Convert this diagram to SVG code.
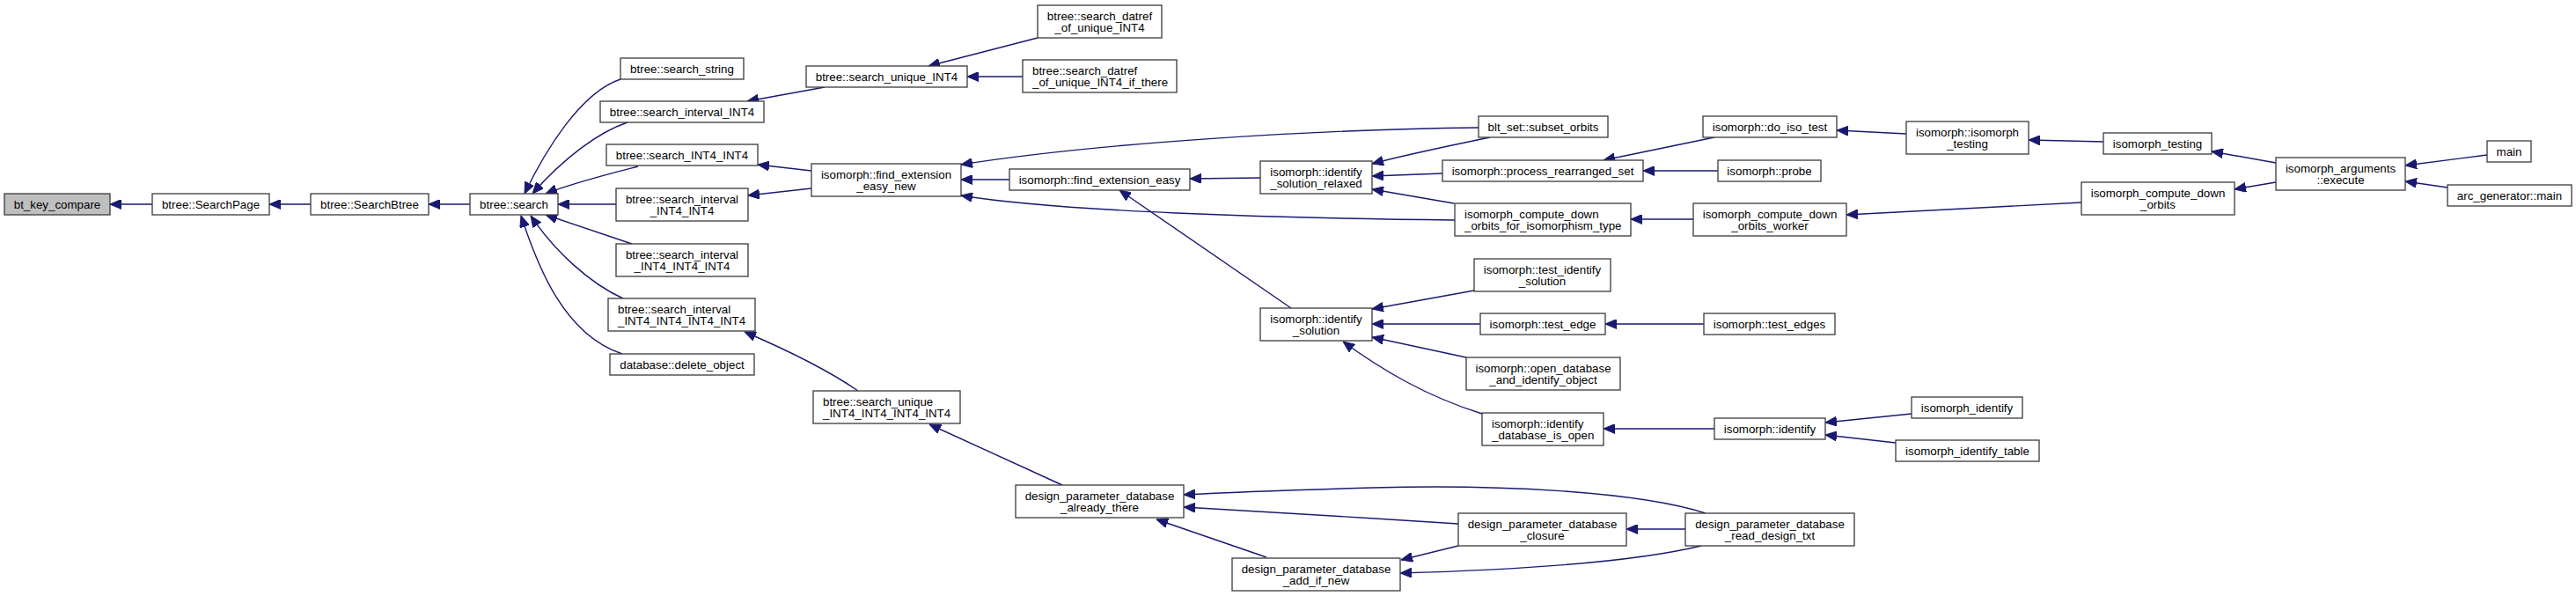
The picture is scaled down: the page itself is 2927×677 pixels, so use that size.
<svg xmlns="http://www.w3.org/2000/svg" width="2927" height="677" viewBox="0 0 2927 677">
<style>
.n rect{fill:#ffffff;stroke:#3a3a3a;stroke-width:1.3}
.n.root rect{fill:#bfbfbf}
.n text{font-family:"Liberation Sans",Arial,Helvetica,sans-serif;font-size:13.33px;fill:#000000}
.c{text-anchor:middle}
.l{text-anchor:start}
#edges path{fill:none;stroke:#191970;stroke-width:1.4;marker-end:url(#ah)}
</style>
<defs>
<marker id="ah" markerWidth="13" markerHeight="11" refX="13" refY="5.5" orient="auto" markerUnits="userSpaceOnUse">
<path d="M0,0 L13,5.5 L0,11 z" fill="#191970" stroke="#191970" stroke-width="1"/>
</marker>
</defs>
<rect width="2927" height="677" fill="#ffffff"/>
<g id="edges">
<path d="M173,232 L125,232"/>
<path d="M353,232 L306,232"/>
<path d="M534,232 L487,232"/>
<path d="M705,90 C660,105 620,170 596,220"/>
<path d="M713,139 C680,150 640,180 605,220"/>
<path d="M725,189 C690,198 650,208 620,220"/>
<path d="M700,232 L634,232"/>
<path d="M718,277 L620,244"/>
<path d="M708,339 C670,322 630,285 603,245"/>
<path d="M707,402 C640,380 610,300 592,245"/>
<path d="M937,99 L849,115"/>
<path d="M1179,43 L1055,75"/>
<path d="M1162,87 L1099,87"/>
<path d="M922,194 L861,187"/>
<path d="M922,214 L850,222"/>
<path d="M975,444 C940,420 900,400 846,377"/>
<path d="M1207,551 L1056,482"/>
<path d="M1147,204 L1092,204"/>
<path d="M1680,145 C1500,147 1250,162 1092,187"/>
<path d="M1653,250 C1450,248 1200,240 1092,222"/>
<path d="M1432,202 L1352,203"/>
<path d="M1467,350 L1272,216"/>
<path d="M1693,156 C1650,165 1600,175 1559,186"/>
<path d="M1639,197 L1559,200"/>
<path d="M1652,231 L1559,215"/>
<path d="M1948,156 L1822,182"/>
<path d="M1952,194 L1867,194"/>
<path d="M1924,249 L1853,249"/>
<path d="M2166,152 L2087,148"/>
<path d="M2390,161 L2305,159"/>
<path d="M2586,185 L2513,172"/>
<path d="M2586,207 L2539,215"/>
<path d="M2826,176 L2733,188"/>
<path d="M2781,213 L2733,206"/>
<path d="M2365,230 L2098,244"/>
<path d="M1675,330 L1559,351"/>
<path d="M1682,368 L1559,368"/>
<path d="M1666,406 L1559,383"/>
<path d="M1684,470 C1620,450 1570,420 1526,388"/>
<path d="M1948,487 L1822,487"/>
<path d="M1936,368 L1824,368"/>
<path d="M2172,470 L2074,480"/>
<path d="M2154,503 L2074,494"/>
<path d="M1657,595 C1550,588 1420,580 1345,576"/>
<path d="M1938,583 C1860,558 1700,550 1560,554 S1400,559 1345,562"/>
<path d="M1439,633 L1314,590"/>
<path d="M1657,620 L1592,636"/>
<path d="M1933,620 C1850,640 1700,648 1591,651"/>
<path d="M1915,601 L1848,601"/>
</g>
<g id="n_bt_key_compare" class="n root"><rect x="5" y="220" width="120" height="24"/><text class="c" x="65" y="237">bt_key_compare</text></g>
<g id="n_SearchPage" class="n"><rect x="173" y="220" width="133" height="24"/><text class="c" x="239.5" y="237">btree::SearchPage</text></g>
<g id="n_SearchBtree" class="n"><rect x="353" y="220" width="134" height="24"/><text class="c" x="420" y="237">btree::SearchBtree</text></g>
<g id="n_search" class="n"><rect x="534" y="220" width="100" height="24"/><text class="c" x="584" y="237">btree::search</text></g>
<g id="n_search_string" class="n"><rect x="705" y="66" width="140" height="24"/><text class="c" x="775" y="83">btree::search_string</text></g>
<g id="n_search_interval_INT4" class="n"><rect x="682" y="115" width="186" height="24"/><text class="c" x="775" y="132">btree::search_interval_INT4</text></g>
<g id="n_search_INT4_INT4" class="n"><rect x="689" y="164" width="172" height="24"/><text class="c" x="775" y="181">btree::search_INT4_INT4</text></g>
<g id="n_search_interval_INT4_INT4" class="n"><rect x="700" y="214" width="150" height="37"/><text class="c" x="775" y="231">btree::search_interval</text><text class="c" x="775" y="244">_INT4_INT4</text></g>
<g id="n_search_interval_INT4_INT4_INT4" class="n"><rect x="700" y="277" width="150" height="37"/><text class="c" x="775" y="294">btree::search_interval</text><text class="c" x="775" y="307">_INT4_INT4_INT4</text></g>
<g id="n_search_interval_INT4_INT4_INT4_INT4" class="n"><rect x="691" y="339" width="167" height="37"/><text class="l" x="702" y="356">btree::search_interval</text><text class="l" x="702" y="369">_INT4_INT4_INT4_INT4</text></g>
<g id="n_delete_object" class="n"><rect x="693" y="402" width="164" height="24"/><text class="c" x="775" y="419">database::delete_object</text></g>
<g id="n_search_unique_INT4" class="n"><rect x="916" y="75" width="183" height="24"/><text class="c" x="1007.5" y="92">btree::search_unique_INT4</text></g>
<g id="n_search_datref_of_unique_INT4" class="n"><rect x="1179" y="6" width="141" height="37"/><text class="c" x="1249.5" y="23">btree::search_datref</text><text class="c" x="1249.5" y="36">_of_unique_INT4</text></g>
<g id="n_search_datref_of_unique_INT4_if_there" class="n"><rect x="1162" y="68" width="175" height="37"/><text class="l" x="1173" y="85">btree::search_datref</text><text class="l" x="1173" y="98">_of_unique_INT4_if_there</text></g>
<g id="n_find_extension_easy_new" class="n"><rect x="922" y="186" width="170" height="37"/><text class="c" x="1007" y="203">isomorph::find_extension</text><text class="c" x="1007" y="216">_easy_new</text></g>
<g id="n_search_unique_INT4_INT4_INT4_INT4" class="n"><rect x="924" y="444" width="167" height="37"/><text class="l" x="935" y="461">btree::search_unique</text><text class="l" x="935" y="474">_INT4_INT4_INT4_INT4</text></g>
<g id="n_already_there" class="n"><rect x="1154" y="551" width="191" height="37"/><text class="c" x="1249.5" y="568">design_parameter_database</text><text class="c" x="1249.5" y="581">_already_there</text></g>
<g id="n_find_extension_easy" class="n"><rect x="1147" y="192" width="205" height="24"/><text class="c" x="1249.5" y="209">isomorph::find_extension_easy</text></g>
<g id="n_identify_solution_relaxed" class="n"><rect x="1432" y="183" width="127" height="37"/><text class="c" x="1495.5" y="200">isomorph::identify</text><text class="c" x="1495.5" y="213">_solution_relaxed</text></g>
<g id="n_identify_solution" class="n"><rect x="1432" y="350" width="127" height="37"/><text class="c" x="1495.5" y="367">isomorph::identify</text><text class="c" x="1495.5" y="380">_solution</text></g>
<g id="n_subset_orbits" class="n"><rect x="1680" y="132" width="147" height="24"/><text class="c" x="1753.5" y="149">blt_set::subset_orbits</text></g>
<g id="n_process_rearranged_set" class="n"><rect x="1639" y="182" width="228" height="24"/><text class="c" x="1753" y="199">isomorph::process_rearranged_set</text></g>
<g id="n_compute_down_orbits_for_isomorphism_type" class="n"><rect x="1653" y="231" width="200" height="37"/><text class="l" x="1664" y="248">isomorph_compute_down</text><text class="l" x="1664" y="261">_orbits_for_isomorphism_type</text></g>
<g id="n_test_identify_solution" class="n"><rect x="1675" y="294" width="155" height="37"/><text class="c" x="1752.5" y="311">isomorph::test_identify</text><text class="c" x="1752.5" y="324">_solution</text></g>
<g id="n_test_edge" class="n"><rect x="1682" y="356" width="142" height="24"/><text class="c" x="1753" y="373">isomorph::test_edge</text></g>
<g id="n_open_database_and_identify_object" class="n"><rect x="1666" y="406" width="175" height="37"/><text class="c" x="1753.5" y="423">isomorph::open_database</text><text class="c" x="1753.5" y="436">_and_identify_object</text></g>
<g id="n_identify_database_is_open" class="n"><rect x="1684" y="469" width="138" height="37"/><text class="l" x="1695" y="486">isomorph::identify</text><text class="l" x="1695" y="499">_database_is_open</text></g>
<g id="n_closure" class="n"><rect x="1657" y="583" width="191" height="37"/><text class="c" x="1752.5" y="600">design_parameter_database</text><text class="c" x="1752.5" y="613">_closure</text></g>
<g id="n_add_if_new" class="n"><rect x="1400" y="634" width="191" height="37"/><text class="c" x="1495.5" y="651">design_parameter_database</text><text class="c" x="1495.5" y="664">_add_if_new</text></g>
<g id="n_read_design_txt" class="n"><rect x="1915" y="583" width="192" height="37"/><text class="c" x="2011" y="600">design_parameter_database</text><text class="c" x="2011" y="613">_read_design_txt</text></g>
<g id="n_do_iso_test" class="n"><rect x="1935" y="132" width="152" height="24"/><text class="c" x="2011" y="149">isomorph::do_iso_test</text></g>
<g id="n_probe" class="n"><rect x="1952" y="182" width="117" height="24"/><text class="c" x="2010.5" y="199">isomorph::probe</text></g>
<g id="n_compute_down_orbits_worker" class="n"><rect x="1924" y="231" width="174" height="37"/><text class="c" x="2011" y="248">isomorph_compute_down</text><text class="c" x="2011" y="261">_orbits_worker</text></g>
<g id="n_test_edges" class="n"><rect x="1936" y="356" width="149" height="24"/><text class="c" x="2010.5" y="373">isomorph::test_edges</text></g>
<g id="n_isomorph_identify_method" class="n"><rect x="1948" y="475" width="126" height="24"/><text class="c" x="2011" y="492">isomorph::identify</text></g>
<g id="n_isomorph_isomorph_testing" class="n"><rect x="2166" y="138" width="139" height="37"/><text class="c" x="2235.5" y="155">isomorph::isomorph</text><text class="c" x="2235.5" y="168">_testing</text></g>
<g id="n_isomorph_testing" class="n"><rect x="2390" y="151" width="123" height="24"/><text class="c" x="2451.5" y="168">isomorph_testing</text></g>
<g id="n_compute_down_orbits" class="n"><rect x="2365" y="207" width="174" height="37"/><text class="c" x="2452" y="224">isomorph_compute_down</text><text class="c" x="2452" y="237">_orbits</text></g>
<g id="n_execute" class="n"><rect x="2586" y="179" width="147" height="37"/><text class="c" x="2659.5" y="196">isomorph_arguments</text><text class="c" x="2659.5" y="209">::execute</text></g>
<g id="n_main" class="n"><rect x="2826" y="160" width="50" height="24"/><text class="c" x="2851" y="177">main</text></g>
<g id="n_arc_generator_main" class="n"><rect x="2781" y="210" width="141" height="24"/><text class="c" x="2851.5" y="227">arc_generator::main</text></g>
<g id="n_isomorph_identify" class="n"><rect x="2172" y="451" width="126" height="24"/><text class="c" x="2235" y="468">isomorph_identify</text></g>
<g id="n_isomorph_identify_table" class="n"><rect x="2154" y="500" width="163" height="24"/><text class="c" x="2235.5" y="517">isomorph_identify_table</text></g>
</svg>
